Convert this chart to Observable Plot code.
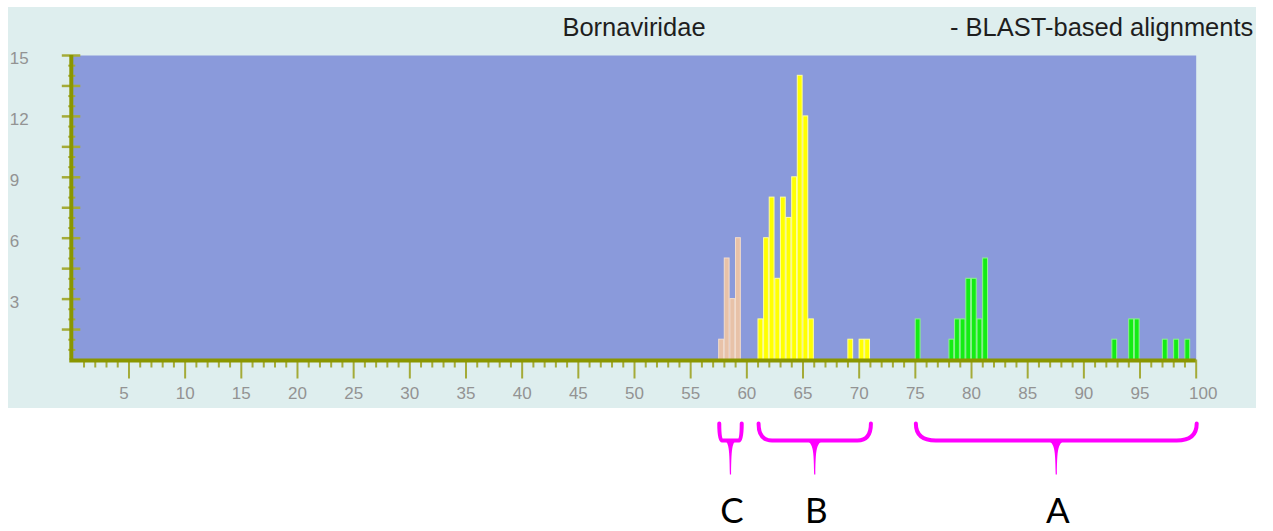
<!DOCTYPE html>
<html><head><meta charset="utf-8">
<script src="https://cdn.jsdelivr.net/npm/d3@7"></script>
<script src="https://cdn.jsdelivr.net/npm/@observablehq/plot@0.6"></script>
<style>
html,body{margin:0;padding:0;background:#fff;}
#wrap{position:relative;width:1273px;height:531px;overflow:hidden;}
#panel{position:absolute;left:8px;top:7px;width:1248px;height:401px;background:#deeeee;}
.title{position:absolute;font-family:"Liberation Sans",Arial,sans-serif;font-size:25.5px;line-height:1;color:#1e1e1e;white-space:nowrap;}
#t1{left:634px;top:15px;transform:translateX(-50%);}
#t2{left:950px;top:15px;}
#chart{position:absolute;left:0;top:0;}
</style></head><body>
<div id="wrap">
<div id="panel"></div>
<div class="title" id="t1">Bornaviridae</div>
<div class="title" id="t2">- BLAST-based alignments</div>
<div id="chart"></div>
</div>
<script>
// ---- data (bin start, count per bin of width 0.5) ----
const binWidth = 0.5;
const pinkStart = [57.5, 58, 58.5, 59];
const pinkCount = [1, 5, 3, 6];
const yellowStart = [61, 61.5, 62, 62.5, 63, 63.5, 64, 64.5, 65, 65.5, 69, 70, 70.5];
const yellowCount = [2, 6, 8, 4, 8, 7, 9, 14, 12, 2, 1, 1, 1];
const greenStart = [75, 78, 78.5, 79, 79.5, 80, 80.5, 81, 92.5, 94, 94.5, 97, 98, 99];
const greenCount = [2, 1, 2, 2, 4, 4, 2, 5, 1, 2, 2, 1, 1, 1];
const xTickLabels = [5, 10, 15, 20, 25, 30, 35, 40, 45, 50, 55, 60, 65, 70, 75, 80, 85, 90, 95, 100];
const yTickLabels = [3, 6, 9, 12, 15];
const yMajorTicks = [1.5, 3, 4.5, 6, 7.5, 9, 10.5, 12, 13.5, 15];
const groupNames = ["C", "B", "A"];
const groupFrom = [57.5, 61, 75];
const groupTo = [59.5, 71, 100];

// ---- styles ----
const C = {
  plotBg: "#8a9adb",
  axis: "#8a9600",
  tick: "#a4ab38",
  label: "#939393",
  pink: "#e8c2a8", pinkEdge: "#f3dccb",
  yellow: "#ffff00", yellowEdge: "#ffff9a",
  green: "#14ec14", greenEdge: "#8cf58c",
  brace: "#ff00ff"
};

const toBars = (starts, counts) => starts.map((s, i) => ({start: s, end: s + binWidth, count: counts[i]}));
const pinkBars = toBars(pinkStart, pinkCount);
const yellowBars = toBars(yellowStart, yellowCount);
const greenBars = toBars(greenStart, greenCount);
const groups = groupNames.map((n, i) => ({name: n, from: groupFrom[i], to: groupTo[i], mid: (groupFrom[i] + groupTo[i]) / 2}));

const xMinorTicks = d3.range(1, 100).filter(v => v % 5 !== 0);
const xMajorTicks = xTickLabels;
const yMinorTicks = d3.range(0.5, 15, 0.5).filter(v => !yMajorTicks.includes(v));

const barOpts = (fill, stroke) => ({x1: "start", x2: "end", y1: 0, y2: "count", fill, stroke, strokeWidth: 1, insetLeft: 0.4, insetRight: 0.4});

function braceMark(index, scales, values, dimensions) {
  const base = dimensions.height - dimensions.marginBottom;
  const yTop = base + 64, yH = base + 81, yTip = base + 115;
  const g = d3.create("svg:g");
  for (const grp of groups) {
    const x1 = scales.x(grp.from) + 1, x2 = scales.x(grp.to) + 1;
    const xm = (x1 + x2) / 2;
    const w = x2 - x1;
    const r = Math.min(w * 0.12, 20);
    const hw = Math.min(14, w / 2 - r);
    const p = d3.path();
    p.moveTo(x1, yTop);
    p.quadraticCurveTo(x1, yH, x1 + r, yH);
    p.lineTo(x2 - r, yH);
    p.quadraticCurveTo(x2, yH, x2, yTop);
    g.append("path").attr("d", p.toString()).attr("fill", "none")
      .attr("stroke", C.brace).attr("stroke-width", 4).attr("stroke-linecap", "round");
    const t = d3.path();
    t.moveTo(xm - hw, yH);
    t.bezierCurveTo(xm - 2, yH, xm - 1, yH + 4, xm - 0.6, yTip);
    t.lineTo(xm + 0.6, yTip);
    t.bezierCurveTo(xm + 1, yH + 4, xm + 2, yH, xm + hw, yH);
    t.closePath();
    g.append("path").attr("d", t.toString()).attr("fill", C.brace);
  }
  return g.node();
}

const chart = Plot.plot({
  width: 1273,
  height: 531,
  marginLeft: 72.3,
  marginRight: 77.3,
  marginTop: 55,
  marginBottom: 171.5,
  style: {background: "transparent", fontFamily: "Liberation Sans, Arial, sans-serif", overflow: "visible"},
  x: {domain: [0, 100], label: null},
  y: {domain: [0, 15], label: null},
  marks: [
    Plot.frame({fill: C.plotBg, stroke: null}),
    Plot.rect(pinkBars, barOpts(C.pink, C.pinkEdge)),
    Plot.rect(yellowBars, barOpts(C.yellow, C.yellowEdge)),
    Plot.rect(greenBars, barOpts(C.green, C.greenEdge)),
    // x ticks
    Plot.axisX(xMinorTicks, {tickSize: 8, tickFormat: () => "", stroke: C.tick, strokeWidth: 2, label: null}),
    Plot.axisX(xMajorTicks, {tickSize: 19, tickFormat: () => "", stroke: C.tick, strokeWidth: 2, label: null}),
    // y ticks
    Plot.axisY([], {tickSize: 0, tickFormat: () => "", label: null}),
    Plot.ruleY(yMinorTicks, {x1: 0, x2: 0, insetLeft: -4, insetRight: -3, stroke: C.tick, strokeWidth: 2}),
    Plot.ruleY(yMajorTicks, {x1: 0, x2: 0, insetLeft: -10.5, insetRight: -8, stroke: C.tick, strokeWidth: 2.5}),
    // axis lines
    Plot.ruleX([0], {stroke: C.axis, strokeWidth: 4, dx: -1.5}),
    Plot.ruleY([0], {stroke: C.axis, strokeWidth: 4, dy: 0.5, insetLeft: -3}),
    // tick labels
    Plot.text(xTickLabels.filter(v => v !== 5 && v !== 100), {x: d => d, frameAnchor: "bottom", dy: 38.5, fill: C.label, fontSize: 17}),
    Plot.text(xTickLabels.filter(v => v === 5), {x: d => d, frameAnchor: "bottom", dy: 38.5, dx: -5, fill: C.label, fontSize: 17}),
    Plot.text(xTickLabels.filter(v => v === 100), {x: d => d, frameAnchor: "bottom", dy: 38.5, dx: 7, fill: C.label, fontSize: 17}),
    Plot.text(yTickLabels, {y: d => d, frameAnchor: "left", textAnchor: "start", dx: -63, dy: 3, fill: C.label, fontSize: 17}),
    // group annotations
    braceMark,
    Plot.text(groups, {x: "mid", text: "name", frameAnchor: "bottom", dy: 163, dx: 2, fill: "#000", fontSize: 35, fontFamily: "Lato, Open Sans, sans-serif"})
  ]
});
document.getElementById("chart").appendChild(chart);
</script>
</body></html>
